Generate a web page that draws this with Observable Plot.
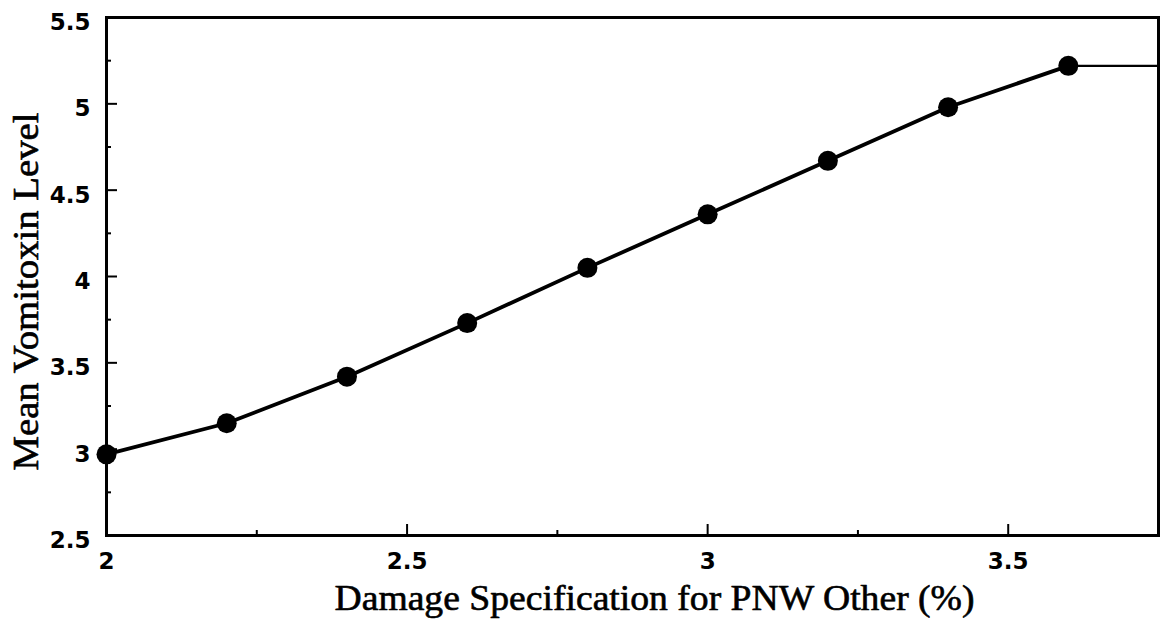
<!DOCTYPE html>
<html>
<head>
<meta charset="utf-8">
<script src="https://cdn.jsdelivr.net/npm/d3@7"></script>
<script src="https://cdn.jsdelivr.net/npm/@observablehq/plot@0.6"></script>
<style>
  html, body { margin: 0; padding: 0; background: #fff; }
  #chart svg { display: block; }
</style>
</head>
<body>
<div id="chart"></div>
<script>
// Data
const specX = [2.0, 2.2, 2.4, 2.6, 2.8, 3.0, 3.2, 3.4, 3.6];
const vomitoxin = [2.97, 3.15, 3.42, 3.73, 4.05, 4.36, 4.67, 4.98, 5.22];
const tailX = [3.6, 3.75];
const tailY = [5.22, 5.22];
const xMajorTicks = [2, 2.5, 3, 3.5];
const xMinorTicks = [2.25, 2.75, 3.25];
const yMajorTicks = [2.5, 3, 3.5, 4, 4.5, 5, 5.5];
const yMinorTicks = [2.75, 3.25, 3.75, 4.25, 4.75, 5.25];
const xLabel = "Damage Specification for PNW Other (%)";
const yLabel = "Mean Vomitoxin Level";

const points = specX.map((x, i) => ({x, y: vomitoxin[i]}));
const tail = tailX.map((x, i) => ({x, y: tailY[i]}));

const tickFont = "DejaVu Sans";
const labelFont = "Liberation Serif";

const chart = Plot.plot({
  width: 1161,
  height: 626,
  marginLeft: 106,
  marginRight: 3,
  marginTop: 17,
  marginBottom: 91,
  x: {domain: [2, 3.75]},
  y: {domain: [2.5, 5.5]},
  marks: [
    Plot.frame({stroke: "#000", strokeWidth: 3}),
    // tick labels
    Plot.axisX(xMajorTicks, {tickSize: 0, tickPadding: 17, fontSize: 23, fontWeight: "bold", fontFamily: tickFont, label: null, tickFormat: d => String(d)}),
    Plot.axisY(yMajorTicks, {tickSize: 0, tickPadding: 16, dy: 5, fontSize: 23, fontWeight: "bold", fontFamily: tickFont, label: null, tickFormat: d => String(d)}),
    // inward ticks
    Plot.axisX(xMajorTicks, {tickSize: -11, text: null, strokeWidth: 2, label: null}),
    Plot.axisX(xMinorTicks, {tickSize: -5, text: null, strokeWidth: 2, label: null}),
    Plot.axisY(yMajorTicks, {tickSize: -11, text: null, strokeWidth: 2, label: null}),
    Plot.axisY(yMinorTicks, {tickSize: -5, text: null, strokeWidth: 2, label: null}),
    // axis titles
    Plot.text([xLabel], {frameAnchor: "bottom", dx: 22, dy: 74, lineAnchor: "bottom", textAnchor: "middle", fontSize: 35, fontFamily: labelFont, fill: "#000", stroke: "#000", strokeWidth: 0.6, className: "xlab"}),
    Plot.text([yLabel], {frameAnchor: "left", dx: -69, dy: 15, rotate: -90, lineAnchor: "bottom", textAnchor: "middle", fontSize: 35, fontFamily: labelFont, fill: "#000", stroke: "#000", strokeWidth: 0.6, className: "ylab"}),
    // data
    Plot.line(tail, {x: "x", y: "y", stroke: "#000", strokeWidth: 2.2}),
    Plot.line(points, {x: "x", y: "y", stroke: "#000", strokeWidth: 3.8}),
    Plot.dot(points, {x: "x", y: "y", r: 10, fill: "#000", stroke: "none"})
  ]
});

chart.style.overflow = "visible";
document.getElementById("chart").append(chart);

// stretch axis titles slightly to match the reference's wide face
const xl = chart.querySelector(".xlab text");
if (xl) { xl.setAttribute("textLength", 640); xl.setAttribute("lengthAdjust", "spacingAndGlyphs"); }
const yl = chart.querySelector(".ylab text");
if (yl) { yl.setAttribute("textLength", 358); yl.setAttribute("lengthAdjust", "spacingAndGlyphs"); }
</script>
</body>
</html>
